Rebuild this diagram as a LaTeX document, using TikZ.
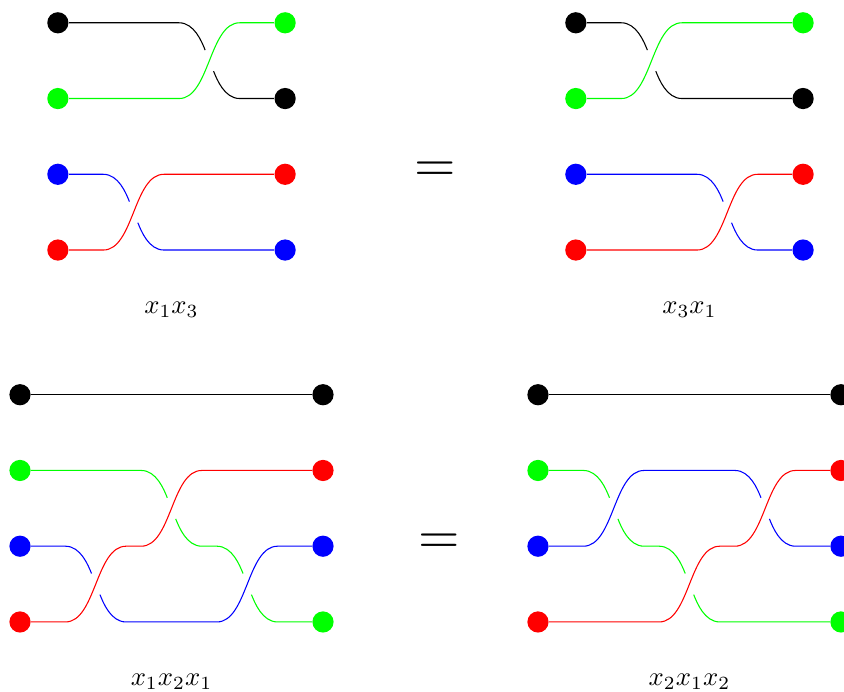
\documentclass[tikz,border=0pt]{standalone}
\usepackage{amsmath,amssymb}
\usetikzlibrary{positioning}

\tikzset{
  dot/.style={circle,fill=#1,inner sep=0pt,minimum size=0.28cm},
  over/.style={out=0,in=180,out distance=0.4cm,in distance=0.4cm},
  under in/.style={out=0,in=111.8,out distance=0.2cm,in distance=0.269cm},
  under out/.style={out=-68.2,in=180,out distance=0.269cm,in distance=0.2cm},
  gapin/.style={shorten >=0.15cm},
  gapout/.style={shorten <=0.15cm}
}

\begin{document}
\begin{tikzpicture}[x=1cm,y=1cm]
\useasboundingbox (-0.264,-0.924) rectangle (10.878,8.211);

\begin{scope}[shift={(0.5,4.91)}]
\foreach \y/\cl/\cr in {0/red/blue,1/blue/red,2/green/black,3/black/green} {
  \node[dot=\cl] (A-l\y) at (0,\y) {};
  \node[dot=\cr] (A-r\y) at (3,\y) {};
}
\coordinate (A-p1) at (1,0.5);
\coordinate (A-p2) at (2,2.5);
\draw[black,gapin] (A-l3) -- (1.6,3) to[under in] (A-p2);
\draw[black,gapout] (A-p2) to[under out] (2.4,2) -- (A-r2);
\draw[green] (A-l2) -- (1.6,2) to[over] (2.4,3) -- (A-r3);
\draw[blue,gapin] (A-l1) -- (0.6,1) to[under in] (A-p1);
\draw[blue,gapout] (A-p1) to[under out] (1.4,0) -- (A-r0);
\draw[red] (A-l0) -- (0.6,0) to[over] (1.4,1) -- (A-r1);
\node (A-lab) at (1.5,-0.79) {$x_1x_3$};
\end{scope}

\begin{scope}[shift={(7.338,4.91)}]
\foreach \y/\cl/\cr in {0/red/blue,1/blue/red,2/green/black,3/black/green} {
  \node[dot=\cl] (B-l\y) at (0,\y) {};
  \node[dot=\cr] (B-r\y) at (3,\y) {};
}
\coordinate (B-p1) at (1,2.5);
\coordinate (B-p2) at (2,0.5);
\draw[black,gapin] (B-l3) -- (0.6,3) to[under in] (B-p1);
\draw[black,gapout] (B-p1) to[under out] (1.4,2) -- (B-r2);
\draw[green] (B-l2) -- (0.6,2) to[over] (1.4,3) -- (B-r3);
\draw[blue,gapin] (B-l1) -- (1.6,1) to[under in] (B-p2);
\draw[blue,gapout] (B-p2) to[under out] (2.4,0) -- (B-r0);
\draw[red] (B-l0) -- (1.6,0) to[over] (2.4,1) -- (B-r1);
\node (B-lab) at (1.5,-0.79) {$x_3x_1$};
\end{scope}

\begin{scope}
\foreach \y/\cl/\cr in {0/red/green,1/blue/blue,2/green/red,3/black/black} {
  \node[dot=\cl] (C-l\y) at (0,\y) {};
  \node[dot=\cr] (C-r\y) at (4,\y) {};
}
\coordinate (C-p1) at (1,0.5);
\coordinate (C-p2) at (2,1.5);
\coordinate (C-p3) at (3,0.5);
\draw[black] (C-l3) -- (C-r3);
\draw[green,gapin] (C-l2) -- (1.6,2) to[under in] (C-p2);
\draw[green,gapin,gapout] (C-p2) to[under out] (2.4,1) -- (2.6,1) to[under in] (C-p3);
\draw[green,gapout] (C-p3) to[under out] (3.4,0) -- (C-r0);
\draw[blue,gapin] (C-l1) -- (0.6,1) to[under in] (C-p1);
\draw[blue,gapout] (C-p1) to[under out] (1.4,0) -- (2.6,0) to[over] (3.4,1) -- (C-r1);
\draw[red] (C-l0) -- (0.6,0) to[over] (1.4,1) -- (1.6,1) to[over] (2.4,2) -- (C-r2);
\node (C-lab) at (2,-0.79) {$x_1x_2x_1$};
\end{scope}

\begin{scope}[shift={(6.838,0)}]
\foreach \y/\cl/\cr in {0/red/green,1/blue/blue,2/green/red,3/black/black} {
  \node[dot=\cl] (D-l\y) at (0,\y) {};
  \node[dot=\cr] (D-r\y) at (4,\y) {};
}
\coordinate (D-p1) at (1,1.5);
\coordinate (D-p2) at (2,0.5);
\coordinate (D-p3) at (3,1.5);
\draw[black] (D-l3) -- (D-r3);
\draw[green,gapin] (D-l2) -- (0.6,2) to[under in] (D-p1);
\draw[green,gapin,gapout] (D-p1) to[under out] (1.4,1) -- (1.6,1) to[under in] (D-p2);
\draw[green,gapout] (D-p2) to[under out] (2.4,0) -- (D-r0);
\draw[blue,gapin] (D-l1) -- (0.6,1) to[over] (1.4,2) -- (2.6,2) to[under in] (D-p3);
\draw[blue,gapout] (D-p3) to[under out] (3.4,1) -- (D-r1);
\draw[red] (D-l0) -- (1.6,0) to[over] (2.4,1) -- (2.6,1) to[over] (3.4,2) -- (D-r2);
\node (D-lab) at (2,-0.79) {$x_2x_1x_2$};
\end{scope}

\node[scale=2] (eq-top) at (5.485,5.94) {$=$};
\node[scale=2] (eq-bot) at (5.53,1.03) {$=$};
\end{tikzpicture}
\end{document}
